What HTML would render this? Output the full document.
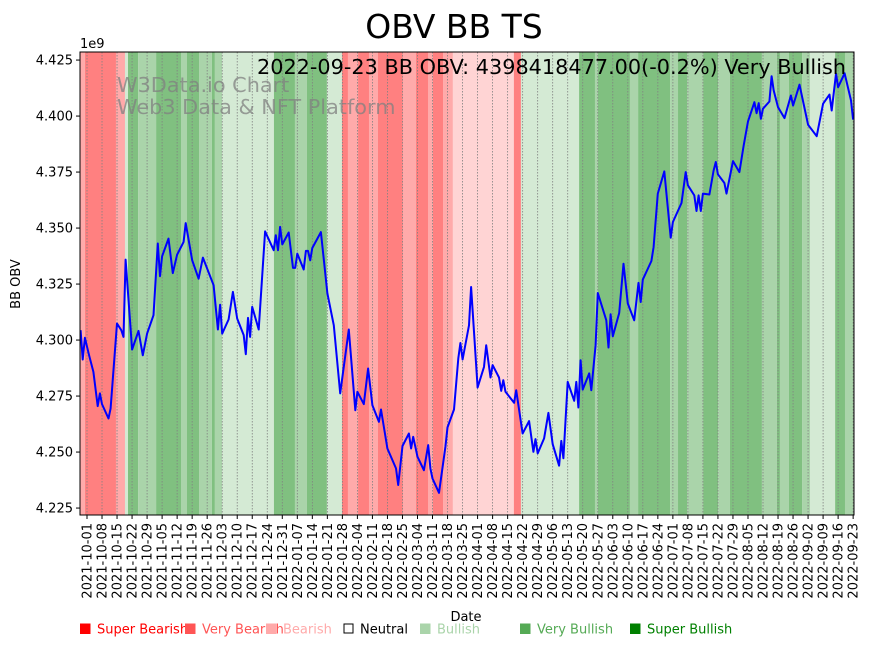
<!DOCTYPE html>
<html><head><meta charset="utf-8"><style>
body{margin:0;background:#fff;}
svg text{font-family:"DejaVu Sans","Liberation Sans",sans-serif;}
</style></head><body>
<svg id="chart" width="870" height="646" xmlns="http://www.w3.org/2000/svg">
<g id="bands"></g>
<g id="grid"></g>
<text x="117" y="92" font-size="20.8" fill="#808080" fill-opacity="0.75">W3Data.io Chart</text>
<text x="117" y="114" font-size="20.8" fill="#808080" fill-opacity="0.75">Web3 Data &amp; NFT Platform</text>
<path id="line" fill="none" stroke="#0000ff" stroke-width="2" stroke-linejoin="round"/>
<rect x="80" y="52" width="774" height="463" fill="none" stroke="#000" stroke-width="1"/>
<g id="yaxis"></g>
<g id="xaxis"></g>
<text x="80" y="48" font-size="13">1e9</text>
<text x="454" y="38" font-size="33" text-anchor="middle">OBV BB TS</text>
<text x="846" y="74" font-size="20.8" text-anchor="end">2022-09-23 BB OBV: 4398418477.00(-0.2%) Very Bullish</text>
<text x="20" y="284" font-size="13" text-anchor="middle" transform="rotate(-90 20 284)">BB OBV</text>
<text x="466" y="621" font-size="13" text-anchor="middle">Date</text>
<g id="legend"></g>
</svg>
<script>
const days=[-3,-2,-1,1,3,5,6,7,10,11,14,16,17,18,21,24,26,28,31,33,34,35,38,40,42,45,46,49,52,54,59,61,62,63,66,68,70,73,74,75,76,77,80,83,87,88,89,90,91,94,96,97,98,101,102,103,104,105,109,112,115,118,122,125,126,129,131,133,136,137,140,144,145,147,150,151,152,154,157,159,160,161,164,167,168,171,173,174,175,178,179,182,185,186,188,189,192,193,194,195,199,200,203,206,208,209,210,213,215,217,220,221,222,224,227,228,229,230,231,234,235,237,238,242,243,244,245,248,250,252,255,257,258,259,263,264,266,269,272,273,277,279,280,283,284,285,286,287,290,292,293,294,297,298,301,304,306,308,311,312,313,314,315,318,319,320,322,325,328,329,332,336,340,343,346,347,349,350,353,356,357];
const obv=[4.3044,4.2913,4.3010,4.2932,4.2858,4.2705,4.2762,4.2714,4.2650,4.2695,4.3074,4.3044,4.3014,4.3359,4.2958,4.3041,4.2932,4.3029,4.3111,4.3431,4.3285,4.3374,4.3453,4.3299,4.3381,4.3438,4.3522,4.3356,4.3274,4.3368,4.3245,4.3047,4.3158,4.3029,4.3092,4.3215,4.3096,4.3022,4.2937,4.3099,4.3014,4.3148,4.3047,4.3485,4.3401,4.3468,4.3401,4.3505,4.3427,4.3480,4.3322,4.3322,4.3386,4.3315,4.3398,4.3398,4.3356,4.3411,4.3482,4.3208,4.3066,4.2762,4.3047,4.2687,4.2769,4.2714,4.2873,4.2709,4.2635,4.2690,4.2516,4.2427,4.2353,4.2527,4.2583,4.2516,4.2568,4.2479,4.2419,4.2531,4.2427,4.2382,4.2318,4.2523,4.2610,4.2690,4.2918,4.2987,4.2913,4.3066,4.3237,4.2788,4.2880,4.2977,4.2833,4.2888,4.2833,4.2773,4.2821,4.2769,4.2720,4.2776,4.2583,4.2638,4.2501,4.2558,4.2494,4.2561,4.2675,4.2535,4.2439,4.2550,4.2472,4.2813,4.2729,4.2813,4.2699,4.2910,4.2779,4.2851,4.2776,4.2977,4.3210,4.3088,4.2967,4.3115,4.3017,4.3121,4.3341,4.3163,4.3088,4.3255,4.3170,4.3270,4.3353,4.3415,4.3654,4.3753,4.3457,4.3527,4.3612,4.3750,4.3691,4.3646,4.3576,4.3646,4.3576,4.3654,4.3650,4.3757,4.3795,4.3740,4.3701,4.3654,4.3799,4.3750,4.3869,4.3976,4.4062,4.4013,4.4058,4.3988,4.4033,4.4065,4.4178,4.4114,4.4040,4.3991,4.4092,4.4047,4.4140,4.3961,4.3910,4.4055,4.4096,4.4025,4.4189,4.4129,4.4191,4.4070,4.3984];
const bandEnds=[-1,13.5,17.7,19.1,23.8,32.2,43.8,46.6,52.2,58.2,59.6,62.9,87.1,96.9,102.5,111.8,118.8,121.6,126.3,131.4,135.6,147.2,153.3,158.9,161.2,165.9,170.5,198.9,202.2,229.3,236.7,238.1,253,256.8,271.7,275.4,279.6,287.1,294.1,299.6,314.5,321.5,322.9,327.1,333.2,336.9,348.6,353.2,357.4];
const bandCats=[1,0,1,4,6,5,6,5,6,5,6,5,4,6,5,6,4,0,1,0,1,0,1,0,1,0,1,2,0,4,6,5,6,5,6,5,6,5,6,5,6,5,6,5,6,5,4,6,5];
const yTicks=[4.225,4.250,4.275,4.300,4.325,4.350,4.375,4.400,4.425];
const xTickLabels=["2021-10-01","2021-10-08","2021-10-15","2021-10-22","2021-10-29","2021-11-05","2021-11-12","2021-11-19","2021-11-26","2021-12-03","2021-12-10","2021-12-17","2021-12-24","2021-12-31","2022-01-07","2022-01-14","2022-01-21","2022-01-28","2022-02-04","2022-02-11","2022-02-18","2022-02-25","2022-03-04","2022-03-11","2022-03-18","2022-03-25","2022-04-01","2022-04-08","2022-04-15","2022-04-22","2022-04-29","2022-05-06","2022-05-13","2022-05-20","2022-05-27","2022-06-03","2022-06-10","2022-06-17","2022-06-24","2022-07-01","2022-07-08","2022-07-15","2022-07-22","2022-07-29","2022-08-05","2022-08-12","2022-08-19","2022-08-26","2022-09-02","2022-09-09","2022-09-16","2022-09-23"];
const legendLabels=["Super Bearish","Very Bearish","Bearish","Neutral","Bullish","Very Bullish","Super Bullish"];
const legendX=[80,185,266,343,420,520,630];

const catFill=["#ff8080","#ffaaaa","#ffd4d4","#ffffff","#d4ead4","#aad4aa","#80c080"];
const legColor=["#ff0000","#ff5555","#ffaaaa","#000000","#aad4aa","#55aa55","#008000"];
const NS="http://www.w3.org/2000/svg";
const X0=80,X1=854,Y0=52,Y1=515,D0=-3.26,D1=357.4,V0=4.2219,V1=4.4286;
const xs=d=>X0+(d-D0)/(D1-D0)*(X1-X0);
const ys=v=>Y1-(v-V0)/(V1-V0)*(Y1-Y0);
function mk(tag,attrs,parent){const e=document.createElementNS(NS,tag);for(const k in attrs)e.setAttribute(k,attrs[k]);parent.appendChild(e);return e;}
const bands=document.getElementById('bands');
let prev=D0;
bandEnds.forEach((end,i)=>{
  const a=xs(prev),b=xs(Math.min(end,D1));
  const r=mk('rect',{x:a,y:Y0,width:Math.max(0,b-a),height:Y1-Y0,fill:catFill[bandCats[i]]},bands);
  
  
  prev=end;
});
const grid=document.getElementById('grid'),xaxis=document.getElementById('xaxis');
xTickLabels.forEach((lab,i)=>{
  const x=xs(i*7);
  const g=mk('line',{x1:x,x2:x,y1:Y0,y2:Y1,stroke:'#808080','stroke-width':0.8,'stroke-dasharray':'1.5,1.5'},grid);
  
  
  const t=mk('line',{x1:x,x2:x,y1:Y1,y2:Y1+4,stroke:'#000'},xaxis);
  
  
  const tx=mk('text',{x:0,y:0,'font-size':13,'text-anchor':'end',transform:`translate(${x+4.5},${Y1+8}) rotate(-90)`},xaxis);
  tx.textContent=lab;
  
  
});
const yaxis=document.getElementById('yaxis');
yTicks.forEach(v=>{
  const y=ys(v);
  const t=mk('line',{x1:X0-4,x2:X0,y1:y,y2:y,stroke:'#000'},yaxis);
  
  
  const tx=mk('text',{x:X0-7,y:y+4.5,'font-size':13,'text-anchor':'end'},yaxis);
  tx.textContent=v.toFixed(3);
  
  
});
let d='';
days.forEach((dd,i)=>{d+=(i?'L':'M')+xs(dd).toFixed(1)+','+ys(obv[i]).toFixed(1);});
document.getElementById('line').setAttribute('d',d);
const leg=document.getElementById('legend');
legendLabels.forEach((lab,i)=>{
  const g=mk('g',{},leg);
  
  
  if(i===3){mk('rect',{x:legendX[i]+1,y:624,width:9,height:9,fill:'#fff',stroke:'#000'},g);}
  else mk('rect',{x:legendX[i],y:623.5,width:10.5,height:10.5,fill:legColor[i]},g);
  const t=mk('text',{x:legendX[i]+17,y:633.5,'font-size':13,fill:legColor[i]},g);
  t.textContent=lab;
});
</script>
</body></html>
